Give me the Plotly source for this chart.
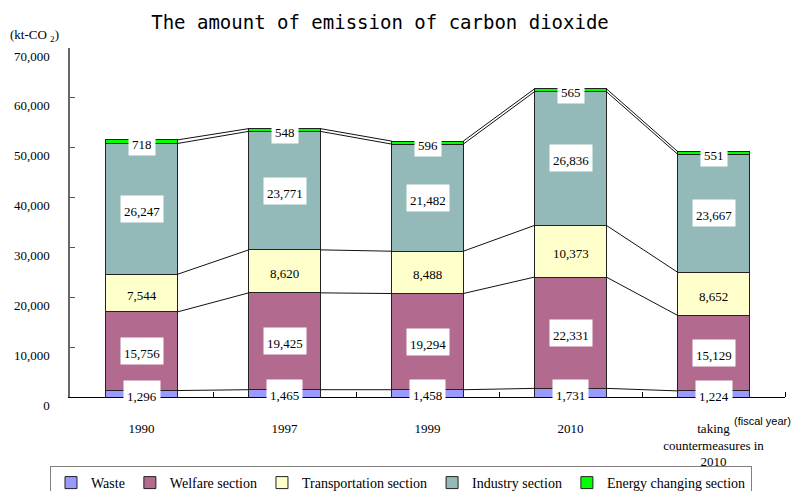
import plotly.graph_objects as go

categories = ["1990", "1997", "1999", "2010", "taking<br>countermeasures in<br>2010"]
waste = [1296, 1465, 1458, 1731, 1224]
welfare = [15756, 19425, 19294, 22331, 15129]
transportation = [7544, 8620, 8488, 10373, 8652]
industry = [26247, 23771, 21482, 26836, 23667]
energy = [718, 548, 596, 565, 551]

series_names = ["Waste", "Welfare section", "Transportation section",
                "Industry section", "Energy changing section"]
series_values = [waste, welfare, transportation, industry, energy]
series_colors = ["#9999ff", "#b36a8f", "#ffffcc", "#93b9b8", "#00ff00"]
label_boxes = [True, True, False, True, True]

y_ticks = [0, 10000, 20000, 30000, 40000, 50000, 60000, 70000]

# page offset (browser body margin) compensation
OFF = 8
W, H = 806 - OFF, 491 - OFF
# target pixel frame in the screenshot
PL, PR, PT, PB = 70, 785, 48, 397
ML, MT = PL - OFF, PT - OFF
MR, MB = W - (PR - OFF), H - (PB - OFF)
PW, PH = PR - PL, PB - PT


def px_x(x):
    return (x - PL) / PW


def px_y(y):
    return (PB - y) / PH


SERIF = "Liberation Serif"
x_pos = list(range(len(categories)))
BAR_W = 0.5

fig = go.Figure()

# stacked bars
for name, vals, col in zip(series_names, series_values, series_colors):
    fig.add_trace(go.Bar(
        x=x_pos, y=vals, name=name, width=BAR_W,
        marker=dict(color=col, line=dict(color="#222222", width=1)),
        hoverinfo="skip",
    ))

# cumulative levels
cum = []
running = [0] * len(categories)
for vals in series_values:
    running = [r + v for r, v in zip(running, vals)]
    cum.append(list(running))

# connector lines between bars
lx, ly = [], []
for level in cum:
    for i in range(len(categories) - 1):
        lx += [x_pos[i] + BAR_W / 2, x_pos[i + 1] - BAR_W / 2, None]
        ly += [level[i], level[i + 1], None]
fig.add_trace(go.Scatter(x=lx, y=ly, mode="lines",
                         line=dict(color="#111111", width=1),
                         showlegend=False, hoverinfo="skip"))

# value labels
annotations = []
base = [0] * len(categories)
for k, vals in enumerate(series_values):
    for i, v in enumerate(vals):
        mid = base[i] + v / 2
        annotations.append(dict(
            x=x_pos[i], y=mid, xref="x", yref="y",
            text=f"{v:,}", showarrow=False,
            font=dict(family=SERIF, size=13, color="black"),
            bgcolor="white" if label_boxes[k] else "rgba(0,0,0,0)",
            height=20, valign="bottom", borderpad=3,
        ))
    base = [b + v for b, v in zip(base, vals)]

# unit label
annotations.append(dict(
    x=px_x(8), y=px_y(35), xref="paper", yref="paper",
    xanchor="left", yanchor="middle", showarrow=False,
    text="(kt-CO <sub>2</sub>)", font=dict(family=SERIF, size=13, color="black"),
))
annotations.append(dict(
    x=px_x(793), y=px_y(421), xref="paper", yref="paper",
    xanchor="right", yanchor="middle", showarrow=False,
    text="(fiscal year)", font=dict(family="Liberation Sans", size=11, color="black"),
))

fig.update_layout(
    width=W, height=H,
    margin=dict(l=ML, r=MR, t=MT, b=MB, autoexpand=False),
    paper_bgcolor="white", plot_bgcolor="white",
    barmode="stack", bargap=0.5,
    title=dict(text="The amount of emission of carbon dioxide",
               x=(380 - OFF) / W, xanchor="center", y=1 - (22 - OFF) / H,
               yanchor="middle",
               font=dict(family="DejaVu Sans Mono", size=19, color="black")),
    xaxis=dict(range=[-0.5, 4.5], tickmode="array", tickvals=x_pos,
               ticktext=categories, ticks="", showline=True,
               linecolor="black", linewidth=1, showgrid=False, zeroline=False,
               automargin=False,
               tickfont=dict(family=SERIF, size=13, color="black"),
               ticklabelstandoff=19,
               minor=dict(tickmode="array",
                          tickvals=[p + 0.5 for p in x_pos],
                          ticks="inside", ticklen=5, tickcolor="black",
                          showgrid=False)),
    yaxis=dict(range=[0, 70000], tickmode="array", tickvals=y_ticks,
               tickformat=",", ticks="inside", ticklen=5, tickcolor="#555555",
               showline=True, linecolor="#666666", linewidth=1.5,
               showgrid=False, zeroline=False, automargin=False,
               tickfont=dict(family=SERIF, size=13, color="black"),
               ticklabelstandoff=16, ticklabelshift=8),
    legend=dict(orientation="h", x=px_x(50), y=px_y(466),
                xanchor="left", yanchor="top", traceorder="normal",
                bordercolor="#808080", borderwidth=1, bgcolor="white",
                font=dict(family=SERIF, size=14, color="black"),
                itemwidth=30),
    annotations=annotations,
    showlegend=True,
)

fig.write_html("out.html")
